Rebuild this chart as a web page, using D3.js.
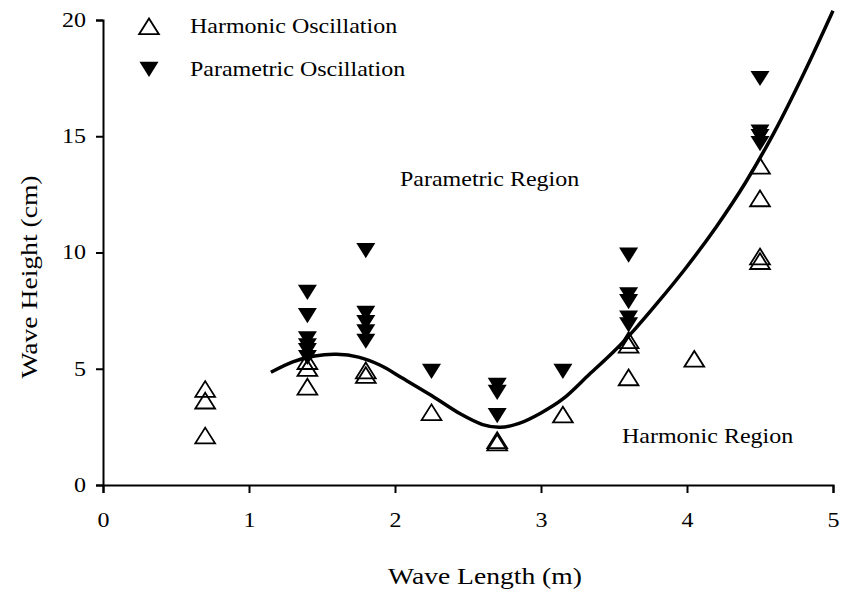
<!DOCTYPE html>
<html>
<head>
<meta charset="utf-8">
<script src="https://cdn.jsdelivr.net/npm/d3@7"></script>
<style>
  html, body { margin: 0; padding: 0; background: #fff; }
  svg { display: block; font-family: "Liberation Serif", "Times New Roman", serif; }
</style>
</head>
<body>
<svg id="chart" width="841" height="595"></svg>
<script>
// Measured wave heights (cm) at each wave length (m)
const harmonicX = [0.7, 0.7, 0.7, 1.4, 1.4, 1.4, 1.8, 1.8, 2.25, 2.7, 2.7, 3.15, 3.6, 3.6, 3.6, 4.05, 4.5, 4.5, 4.5, 4.5];
const harmonicY = [4.1, 3.6, 2.1, 5.3, 5.0, 4.2, 4.9, 4.7, 3.1, 1.9, 1.8, 3.0, 6.2, 6.0, 4.6, 5.4, 13.7, 12.3, 9.8, 9.6];

const parametricX = [1.4, 1.4, 1.4, 1.4, 1.4, 1.4, 1.8, 1.8, 1.8, 1.8, 1.8, 2.25, 2.7, 2.7, 2.7, 3.15, 3.6, 3.6, 3.6, 3.6, 3.6, 4.5, 4.5, 4.5, 4.5];
const parametricY = [8.3, 7.3, 6.3, 6.0, 5.8, 5.5, 10.1, 7.4, 7.0, 6.6, 6.2, 4.9, 4.3, 4.0, 3.0, 4.9, 9.9, 8.2, 7.9, 7.2, 6.9, 17.5, 15.2, 15.0, 14.7];

// Boundary curve separating the harmonic and parametric regions
const boundaryX = [1.15, 1.3, 1.45, 1.6, 1.75, 1.9, 2.05, 2.25, 2.45, 2.6, 2.72, 2.85, 3.0, 3.15, 3.33, 3.5, 3.65, 3.8, 4.0, 4.2, 4.4, 4.6, 4.8, 5.0];
const boundaryY = [4.85, 5.3, 5.55, 5.62, 5.5, 5.15, 4.6, 3.85, 3.05, 2.6, 2.48, 2.65, 3.1, 3.7, 4.75, 5.75, 6.75, 7.85, 9.4, 11.1, 13.0, 15.2, 17.7, 20.4];

const xTicks = [0, 1, 2, 3, 4, 5];
const yTicks = [0, 5, 10, 15, 20];

const svg = d3.select("#chart");
const plotLeft = 103, plotRight = 833, plotTop = 20, plotBottom = 485;
const stretch = 1.2; // wide-set serif lettering

const x = d3.scaleLinear().domain([0, 5]).range([plotLeft, plotRight]);
const y = d3.scaleLinear().domain([0, 20]).range([plotBottom, plotTop]);

// Axes
const xAxis = svg.append("g")
  .attr("transform", `translate(0,${plotBottom})`)
  .call(d3.axisBottom(x).tickValues(xTicks).tickSize(8).tickPadding(20).tickFormat(d3.format("d")));
const yAxis = svg.append("g")
  .attr("transform", `translate(${plotLeft},0)`)
  .call(d3.axisLeft(y).tickValues(yTicks).tickSize(7).tickPadding(0).tickFormat(d3.format("d")));

[xAxis, yAxis].forEach(g => {
  g.select(".domain").attr("stroke", "#000").attr("stroke-width", 2);
  g.selectAll(".tick line").attr("stroke", "#000").attr("stroke-width", 2);
  g.selectAll(".tick text")
    .attr("fill", "#000")
    .style("font-family", "'Liberation Serif', serif")
    .style("font-size", "20px");
});
xAxis.selectAll(".tick text").attr("transform", `scale(${stretch},1)`);
yAxis.selectAll(".tick text").attr("x", -17 / stretch).attr("transform", `scale(${stretch},1)`);

// Boundary curve
const line = d3.line()
  .x((d, i) => x(boundaryX[i]))
  .y((d, i) => y(boundaryY[i]))
  .curve(d3.curveCatmullRom.alpha(0.5));
svg.append("path")
  .datum(boundaryX)
  .attr("d", line)
  .attr("fill", "none")
  .attr("stroke", "#000")
  .attr("stroke-width", 3.5);

// Marker shapes
const upTri = (s) => `M0,${-s * 0.45}L${s * 0.52},${s * 0.38}L${-s * 0.52},${s * 0.38}Z`;
const downTri = (s) => `M${-s * 0.5},${-s * 0.38}L${s * 0.5},${-s * 0.38}L0,${s * 0.42}Z`;
const size = 19;

svg.append("g").selectAll("path")
  .data(parametricX)
  .join("path")
  .attr("transform", (d, i) => `translate(${x(d)},${y(parametricY[i])})`)
  .attr("d", downTri(size))
  .attr("fill", "#000");

svg.append("g").selectAll("path")
  .data(harmonicX)
  .join("path")
  .attr("transform", (d, i) => `translate(${x(d)},${y(harmonicY[i])})`)
  .attr("d", upTri(size))
  .attr("fill", "none")
  .attr("stroke", "#000")
  .attr("stroke-width", 1.8);

// Text helper: places a label with the wide serif letterform
function label(px, py, str, fs, anchor, rotate) {
  svg.append("text")
    .attr("transform", `translate(${px},${py})${rotate ? ` rotate(${rotate})` : ""} scale(${stretch},1)`)
    .attr("text-anchor", anchor || "start")
    .style("font-size", fs + "px")
    .attr("fill", "#000")
    .text(str);
}

// Legend
svg.append("path").attr("transform", "translate(149,27)").attr("d", upTri(size))
  .attr("fill", "none").attr("stroke", "#000").attr("stroke-width", 1.8);
label(190, 33, "Harmonic Oscillation", 20);
svg.append("path").attr("transform", "translate(149,69)").attr("d", downTri(size))
  .attr("fill", "#000");
label(190, 76, "Parametric Oscillation", 20);

// Region labels
label(400, 186, "Parametric Region", 20);
label(622, 443, "Harmonic Region", 20);

// Axis titles
label(485, 584, "Wave Length (m)", 23, "middle");
label(37, 277, "Wave Height (cm)", 23, "middle", -90);
</script>
</body>
</html>
